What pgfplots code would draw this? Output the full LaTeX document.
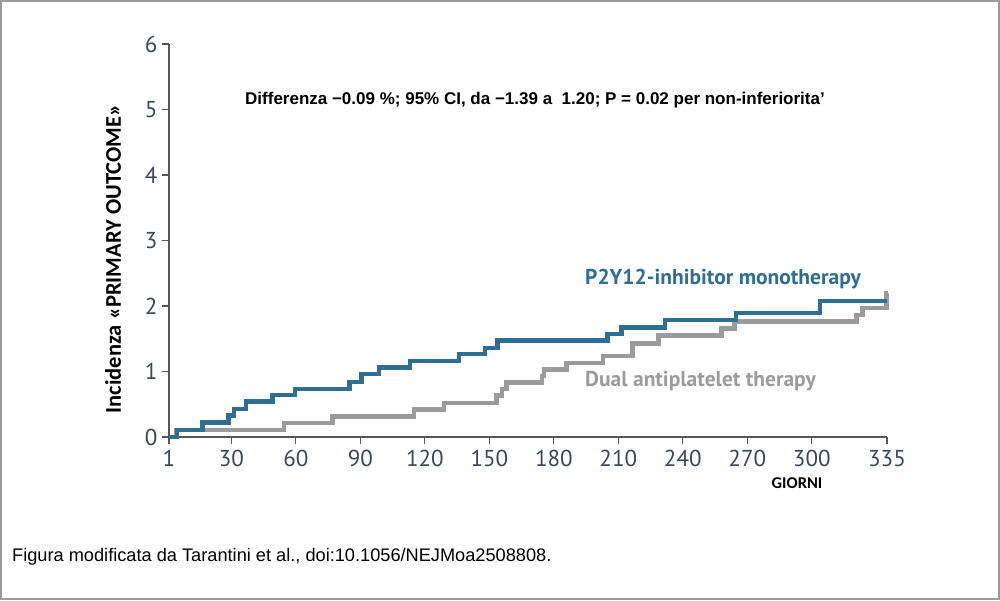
\documentclass[border=0pt]{standalone}
\usepackage{fontspec}
\setmainfont{Liberation Sans}
\newfontfamily\calfont{Carlito}
\newfontfamily\myr{PT Sans}
\usepackage{pgfplots}
\pgfplotsset{compat=1.18}

\definecolor{p2y}{HTML}{2E6E93}
\definecolor{dapt}{HTML}{9B9B9D}
\definecolor{axgray}{HTML}{555555}
\definecolor{ticktxt}{HTML}{3C4658}
\definecolor{frame}{HTML}{9A9A9A}

\begin{document}
\begin{tikzpicture}[x=1pt,y=1pt]
\useasboundingbox (0,0) rectangle (1000,600);
\draw[frame, line width=2pt] (1,1) rectangle (999,599);

\begin{axis}[
  at={(169pt,163pt)}, anchor=south west,
  scale only axis, width=718pt, height=393pt,
  xmin=1, xmax=335, ymin=0, ymax=6,
  axis lines=left,
  axis line style={-, axgray, line width=1.5pt},
  tick align=outside,
  major tick length=7pt,
  tick style={axgray, line width=1.2pt},
  xtick={1,30,60,90,120,150,180,210,240,270,300,335},
  ytick={0,1,2,3,4,5,6},
  /pgf/number format/assume math mode=true,
  tick label style={font=\myr\fontsize{23}{23}\selectfont, text=ticktxt},
  xticklabel style={yshift=-3pt},
  yticklabel style={xshift=-1pt},
  clip=false,
]
\addplot[const plot, dapt, line width=4.5pt] coordinates {
  (1,0) (4.5,0.11) (54.5,0.21) (77,0.31) (115,0.42) (129,0.52)
  (153.4,0.63) (156,0.73) (158,0.83) (174.5,0.93) (175.5,1.03)
  (186,1.13) (203,1.24) (216.5,1.43) (228.6,1.55) (258,1.66)
  (264,1.76) (320.8,1.86) (323.6,1.97) (334.8,2.19) (335,2.19)
};
\addplot[const plot, p2y, line width=4.5pt] coordinates {
  (1,0) (4.7,0.11) (16.5,0.22) (28.6,0.33) (31.2,0.43) (36.8,0.54)
  (49.2,0.64) (59.6,0.73) (84.9,0.84) (90.6,0.96) (98.8,1.06)
  (113,1.16) (136,1.27) (148,1.36) (153.7,1.47) (204.9,1.57)
  (211.6,1.67) (231.7,1.79) (264.7,1.89) (303.8,2.08) (335,2.08)
};
\end{axis}

\node[rotate=90, font=\calfont\bfseries\fontsize{22.5}{22.5}\selectfont] at (113,341) {Incidenza «PRIMARY OUTCOME»};
\node[font=\bfseries\fontsize{17}{17}\selectfont] at (535,500)
  {Differenza −0.09 \%; 95\% CI, da −1.39 a \ 1.20; P = 0.02 per non-inferiorita’};
\node[anchor=west, inner sep=0, font=\myr\bfseries\fontsize{21.5}{21.5}\selectfont, text=p2y] at (585,321) {P2Y12-inhibitor monotherapy};
\node[anchor=west, inner sep=0, font=\myr\bfseries\fontsize{21.5}{21.5}\selectfont, text=dapt] at (585,219) {Dual antiplatelet therapy};
\node[font=\calfont\bfseries\fontsize{16.5}{16.5}\selectfont] at (797,117) {GIORNI};
\node[anchor=west, inner sep=0, font=\fontsize{18.2}{18.2}\selectfont] at (12,43) {Figura modificata da Tarantini et al., doi:10.1056/NEJMoa2508808.};
\end{tikzpicture}
\end{document}
